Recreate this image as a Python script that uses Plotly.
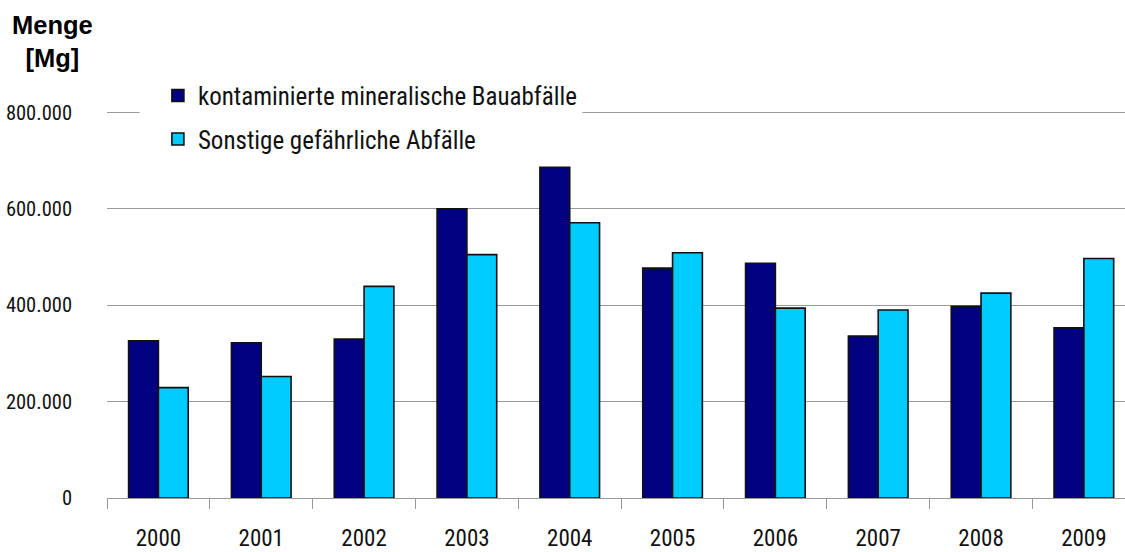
import plotly.graph_objects as go

years = ["2000", "2001", "2002", "2003", "2004", "2005", "2006", "2007", "2008", "2009"]
kontaminiert = [326000, 322000, 330000, 600000, 686000, 477000, 487000, 336000, 398000, 353000]
sonstige = [229000, 252000, 439000, 505000, 571000, 509000, 394000, 390000, 425000, 497000]
series_names = ["kontaminierte mineralische Bauabfälle", "Sonstige gefährliche Abfälle"]
y_ticks = [0, 200000, 400000, 600000, 800000]

NARROW = "Liberation Sans Narrow, Arial Narrow, Roboto Condensed, DejaVu Sans Condensed, Liberation Sans, sans-serif"

fig = go.Figure()
fig.add_trace(go.Bar(x=years, y=kontaminiert, name=series_names[0], legendgroup="a",
                     marker=dict(color="#000080", line=dict(color="#111111", width=1.6))))
fig.add_trace(go.Bar(x=years, y=sonstige, name=series_names[1], legendgroup="b",
                     marker=dict(color="#00CCFF", line=dict(color="#111111", width=1.6))))

fig.update_layout(
    width=1125, height=552,
    margin=dict(l=107, r=0, t=101, b=48),
    paper_bgcolor="white", plot_bgcolor="white",
    separators=",.",
    barmode="group", bargap=0.42, bargroupgap=0,
    font=dict(family=NARROW, size=22, color="#111111"),
    showlegend=True,
    legend=dict(x=0.050, y=1.071, xanchor="left", yanchor="top",
                bgcolor="rgba(0,0,0,0)", font=dict(family=NARROW, size=25, color="#111111"),
                tracegroupgap=8, itemclick=False),
    xaxis=dict(type="category", range=[-0.5, 9.4], showline=True, linecolor="#999999", linewidth=1,
               ticks="outside", tickson="boundaries", ticklen=10, tickcolor="#999999",
               showgrid=False, ticklabelstandoff=19, tickfont=dict(family=NARROW, size=23, color="#111111")),
    yaxis=dict(range=[0, 823700], tickvals=y_ticks, tickformat=",d", showgrid=True,
               gridcolor="#999999", gridwidth=1, zeroline=False, showline=False,
               ticks="", ticklabelstandoff=34, tickfont=dict(family=NARROW, size=20.5, color="#111111")),
    annotations=[dict(text="<b>Menge<br>[Mg]</b>", xref="paper", yref="paper", x=-0.054, y=1.0,
                      yshift=92, xanchor="center", yanchor="top", align="center", showarrow=False,
                      font=dict(family="Liberation Sans, Arial, sans-serif", size=25.5, color="#000000"))],
    shapes=[dict(type="rect", xref="paper", yref="y", x0=0.032, x1=0.467, y0=780000, y1=823700,
                 fillcolor="white", line=dict(width=0), layer="above")],
)

fig.write_html("out.html", config={"displayModeBar": False},
               post_script="document.body.style.margin='0';document.body.style.overflow='hidden';")
